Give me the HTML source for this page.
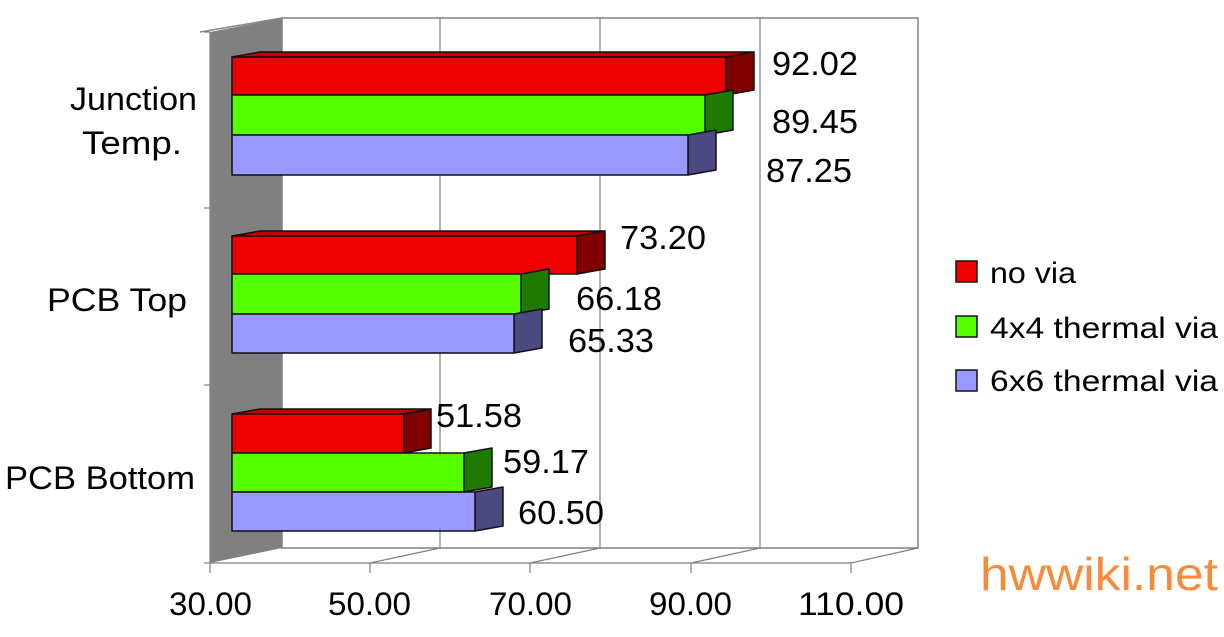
<!DOCTYPE html>
<html><head><meta charset="utf-8"><style>
html,body{margin:0;padding:0;background:#fff;}
svg{display:block;}
text{font-family:"Liberation Sans",Arial,sans-serif;fill:#000;}
</style></head><body>
<svg width="1224" height="637" viewBox="0 0 1224 637" xmlns="http://www.w3.org/2000/svg">
<rect x="282" y="18" width="636" height="530" fill="#fff" stroke="#808080" stroke-width="1.5"/>
<g stroke="#808080" stroke-width="1.2">
<line x1="440" y1="18" x2="440" y2="548"/>
<line x1="600" y1="18" x2="600" y2="548"/>
<line x1="760" y1="18" x2="760" y2="548"/>
</g>
<polygon points="210,32 282,18 282,548 210,563" fill="#808080"/>
<line x1="200" y1="32" x2="282" y2="18" stroke="#888" stroke-width="1.5"/>
<g stroke="#808080" stroke-width="1.2" fill="none">
<line x1="210" y1="563" x2="851" y2="563"/>
<line x1="851" y1="563" x2="918" y2="548"/>
<line x1="370" y1="563" x2="440" y2="548"/>
<line x1="530" y1="563" x2="600" y2="548"/>
<line x1="691" y1="563" x2="760" y2="548"/>
<line x1="210" y1="32" x2="210" y2="573"/>
<line x1="204" y1="32" x2="210" y2="32"/>
<line x1="204" y1="208" x2="210" y2="208"/>
<line x1="204" y1="385" x2="210" y2="385"/>
<line x1="204" y1="563" x2="210" y2="563"/>
<line x1="370" y1="563" x2="370" y2="573"/>
<line x1="530" y1="563" x2="530" y2="573"/>
<line x1="691" y1="563" x2="691" y2="573"/>
<line x1="851" y1="563" x2="851" y2="573"/>
</g>
<g stroke="#111" stroke-width="1.5" stroke-linejoin="round">
<polygon points="232,57 260,52 754,52 726,57" fill="#c00000"/>
<polygon points="726,57 754,52 754,90 726,95" fill="#800000"/>
<rect x="232" y="57" width="494" height="38" fill="#ee0000"/>
<polygon points="705,95 733,90 733,130 705,135" fill="#1e7a00"/>
<rect x="232" y="95" width="473" height="40" fill="#55ff00"/>
<polygon points="688,135 716,130 716,170 688,175" fill="#4a4a80"/>
<rect x="232" y="135" width="456" height="40" fill="#9999ff"/>
<polygon points="232,236 260,231 605,231 577,236" fill="#c00000"/>
<polygon points="577,236 605,231 605,269 577,274" fill="#800000"/>
<rect x="232" y="236" width="345" height="38" fill="#ee0000"/>
<polygon points="521,274 549,269 549,309 521,314" fill="#1e7a00"/>
<rect x="232" y="274" width="289" height="40" fill="#55ff00"/>
<polygon points="514,314 542,309 542,348 514,353" fill="#4a4a80"/>
<rect x="232" y="314" width="282" height="39" fill="#9999ff"/>
<polygon points="232,414 260,409 431,409 404,414" fill="#c00000"/>
<polygon points="404,414 431,409 431,448 404,453" fill="#800000"/>
<rect x="232" y="414" width="172" height="39" fill="#ee0000"/>
<polygon points="464,453 492,448 492,487 464,492" fill="#1e7a00"/>
<rect x="232" y="453" width="232" height="39" fill="#55ff00"/>
<polygon points="475,492 503,487 503,526 475,531" fill="#4a4a80"/>
<rect x="232" y="492" width="243" height="39" fill="#9999ff"/>
</g>
<g font-size="33">
<text x="772" y="75" textLength="86" lengthAdjust="spacingAndGlyphs">92.02</text>
<text x="772" y="133" textLength="86" lengthAdjust="spacingAndGlyphs">89.45</text>
<text x="766" y="182" textLength="86" lengthAdjust="spacingAndGlyphs">87.25</text>
<text x="620" y="249" textLength="86" lengthAdjust="spacingAndGlyphs">73.20</text>
<text x="576" y="310" textLength="86" lengthAdjust="spacingAndGlyphs">66.18</text>
<text x="568" y="352" textLength="86" lengthAdjust="spacingAndGlyphs">65.33</text>
<text x="436" y="427" textLength="86" lengthAdjust="spacingAndGlyphs">51.58</text>
<text x="503" y="473" textLength="86" lengthAdjust="spacingAndGlyphs">59.17</text>
<text x="518" y="524" textLength="86" lengthAdjust="spacingAndGlyphs">60.50</text>
</g>
<g font-size="32">
<text x="70" y="110" textLength="127" lengthAdjust="spacingAndGlyphs">Junction</text>
<text x="82" y="154" textLength="100" lengthAdjust="spacingAndGlyphs">Temp.</text>
<text x="47" y="311" textLength="140" lengthAdjust="spacingAndGlyphs">PCB Top</text>
<text x="5" y="489" textLength="190" lengthAdjust="spacingAndGlyphs">PCB Bottom</text>
</g>
<g font-size="32">
<text x="169" y="615" textLength="83" lengthAdjust="spacingAndGlyphs">30.00</text>
<text x="328" y="615" textLength="83" lengthAdjust="spacingAndGlyphs">50.00</text>
<text x="489" y="615" textLength="83" lengthAdjust="spacingAndGlyphs">70.00</text>
<text x="649" y="615" textLength="83" lengthAdjust="spacingAndGlyphs">90.00</text>
<text x="798" y="615" textLength="106" lengthAdjust="spacingAndGlyphs">110.00</text>
</g>
<g stroke="#111" stroke-width="1.5">
<rect x="956" y="261" width="21" height="21" fill="#ee0000"/>
<rect x="956" y="316" width="21" height="21" fill="#55ff00"/>
<rect x="956" y="370" width="21" height="21" fill="#9999ff"/>
</g>
<g font-size="30">
<text x="990" y="283" textLength="86" lengthAdjust="spacingAndGlyphs">no via</text>
<text x="990" y="338" textLength="228" lengthAdjust="spacingAndGlyphs">4x4 thermal via</text>
<text x="990" y="391" textLength="228" lengthAdjust="spacingAndGlyphs">6x6 thermal via</text>
</g>
<text x="980" y="590" font-size="46" style="fill:#f68b3c" textLength="238" lengthAdjust="spacingAndGlyphs">hwwiki.net</text>
</svg>
</body></html>
